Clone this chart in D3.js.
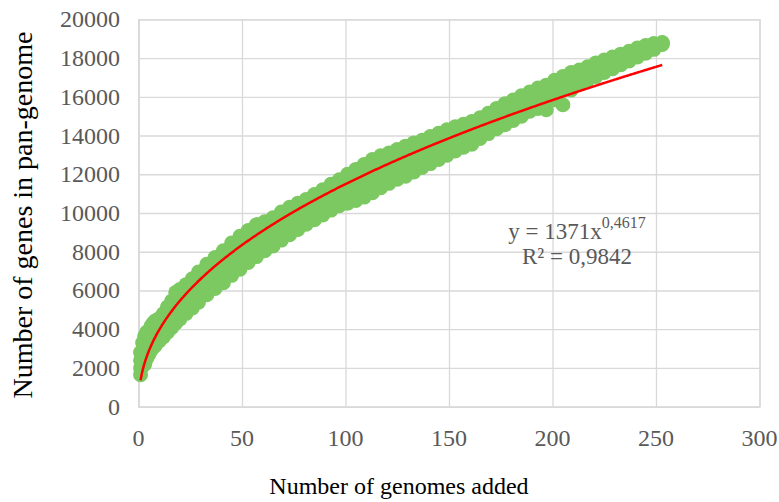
<!DOCTYPE html>
<html>
<head>
<meta charset="utf-8">
<script src="https://cdn.jsdelivr.net/npm/d3@7"></script>
<style>
  html, body { margin: 0; padding: 0; background: #ffffff; }
  svg { display: block; }
</style>
</head>
<body>
<svg id="chart" width="779" height="502"></svg>
<script>
// ---- data ----
const genomesAdded = [1,2,3,4,5,6,7,8,10,12,14,16,18,20,23,26,29,33,37,41,45,49,53,57,61,65,69,73,77,81,85,89,93,97,101,105,109,113,117,121,125,129,133,137,141,145,149,153,157,161,165,169,173,177,181,185,189,193,197,201,205,209,213,217,221,225,229,233,237,241,245,249,253];
const panMax   = [2800,3300,3650,3850,3900,4150,4300,4420,4550,4800,5150,5450,5900,6050,6300,6600,6950,7350,7700,8050,8450,8800,9100,9400,9550,9750,10050,10300,10500,10700,10950,11200,11480,11720,12000,12250,12500,12760,12950,13100,13280,13450,13620,13750,13950,14120,14300,14450,14580,14720,14920,15150,15400,15640,15830,16050,16250,16450,16600,16850,17050,17250,17380,17550,17750,17900,18050,18200,18350,18520,18650,18750,18800];
const panHigh  = [2400,2900,3200,3450,3600,3750,3900,4000,4150,4350,4700,4950,5350,5550,5800,6100,6400,6800,7150,7500,7850,8200,8500,8800,9000,9250,9500,9750,10000,10250,10450,10700,10950,11200,11450,11650,11900,12100,12300,12500,12700,12850,13050,13250,13450,13600,13800,13950,14100,14300,14500,14700,14900,15150,15400,15650,15850,16050,16250,16500,16700,16900,17100,17300,17500,17650,17850,18000,18150,18330,18500,18650,18780];
const panLow   = [2000,2500,2700,3000,3150,3300,3450,3550,3750,3950,4250,4500,4800,5000,5300,5600,5900,6250,6600,6950,7300,7600,7950,8250,8500,8800,9050,9300,9550,9800,10000,10250,10450,10700,10900,11100,11300,11550,11750,11950,12150,12350,12550,12750,12950,13150,13350,13550,13750,13950,14150,14350,14550,14800,15000,15250,15450,15700,15900,16150,16350,16600,16850,17050,17250,17450,17650,17800,17950,18150,18350,18550,18750];
const panMin   = [1650,2100,2200,2500,2700,2900,3050,3150,3400,3600,3850,4080,4330,4530,4820,5100,5400,5780,6100,6400,6780,7100,7450,7750,8050,8300,8600,8880,9150,9420,9650,9900,10150,10380,10500,10650,10820,11050,11300,11530,11740,11900,12120,12350,12550,12760,12980,13200,13400,13550,13850,14100,14350,14550,14780,15000,15250,15400,15330,15850,15590,16350,16650,16850,17050,17250,17450,17650,17850,18050,18250,18450,18700];

// trend line shown in the chart: y = 1371 x^0.4617, R² = 0.9842
const trendCoef = 1371;
const trendExp = 0.4617;
const trendRange = [1, 253];

const xTicks = [0, 50, 100, 150, 200, 250, 300];
const yTicks = [0, 2000, 4000, 6000, 8000, 10000, 12000, 14000, 16000, 18000, 20000];

const xTitle = "Number of genomes added";
const yTitle = "Number of genes in pan-genome";
const eqMain = "y = 1371x";
const eqSup = "0,4617";
const eqR2 = "R² = 0,9842";

// ---- drawing ----
const svg = d3.select("#chart");
const font = "'Liberation Serif', 'Times New Roman', serif";
const textColor = "#595959";
const gridColor = "#d9d9d9";

const x = d3.scaleLinear().domain([0, 300]).range([138.5, 759.5]);
const y = d3.scaleLinear().domain([0, 20000]).range([406.7, 19.3]);

// grid (via axes)
const gx = svg.append("g")
  .attr("transform", `translate(0,${y(0)})`)
  .call(d3.axisBottom(x).tickValues(xTicks).tickSize(-(y(0) - y(20000))).tickFormat(""));
const gy = svg.append("g")
  .attr("transform", `translate(${x(0)},0)`)
  .call(d3.axisLeft(y).tickValues(yTicks).tickSize(-(x(300) - x(0))).tickFormat(""));
[gx, gy].forEach(g => {
  g.select(".domain").attr("stroke", gridColor).attr("stroke-width", 1.3);
  g.selectAll(".tick line").attr("stroke", gridColor).attr("stroke-width", 1.3);
});

// points
const pts = [];
[panMin, panLow, panHigh, panMax].forEach(series => {
  genomesAdded.forEach((g, i) => pts.push([g, series[i]]));
});
svg.append("g").selectAll("circle")
  .data(pts)
  .join("circle")
  .attr("cx", d => x(d[0]))
  .attr("cy", d => y(d[1]))
  .attr("r", 7.5)
  .attr("fill", "#7cc962");

// trendline
const trendX = d3.range(trendRange[0], trendRange[1] + 0.001, 0.5);
const line = d3.line().x(d => x(d)).y(d => y(trendCoef * Math.pow(d, trendExp)));
svg.append("path")
  .datum(trendX)
  .attr("d", line)
  .attr("fill", "none")
  .attr("stroke", "#ff0000")
  .attr("stroke-width", 2.5);

// tick labels
svg.append("g").selectAll("text")
  .data(xTicks)
  .join("text")
  .attr("x", d => x(d))
  .attr("y", 446)
  .attr("text-anchor", "middle")
  .attr("font-family", font)
  .attr("font-size", 24)
  .attr("fill", textColor)
  .text(d => d);

svg.append("g").selectAll("text")
  .data(yTicks)
  .join("text")
  .attr("x", 120)
  .attr("y", d => y(d) + 8)
  .attr("text-anchor", "end")
  .attr("font-family", font)
  .attr("font-size", 24)
  .attr("fill", textColor)
  .text(d => d);

// axis titles
svg.append("text")
  .attr("x", 399)
  .attr("y", 494)
  .attr("text-anchor", "middle")
  .attr("font-family", font)
  .attr("font-size", 24)
  .attr("fill", "#000")
  .text(xTitle);

svg.append("text")
  .attr("transform", "translate(32,215) rotate(-90)")
  .attr("text-anchor", "middle")
  .attr("font-family", font)
  .attr("font-size", 28)
  .attr("fill", "#000")
  .text(yTitle);

// equation
const eq = svg.append("text")
  .attr("x", 577)
  .attr("y", 239)
  .attr("text-anchor", "middle")
  .attr("font-family", font)
  .attr("font-size", 23)
  .attr("fill", textColor);
eq.append("tspan").text(eqMain);
eq.append("tspan").attr("dy", -11).attr("font-size", 16).text(eqSup);

svg.append("text")
  .attr("x", 577)
  .attr("y", 264)
  .attr("text-anchor", "middle")
  .attr("font-family", font)
  .attr("font-size", 23)
  .attr("fill", textColor)
  .text(eqR2);
</script>
</body>
</html>
